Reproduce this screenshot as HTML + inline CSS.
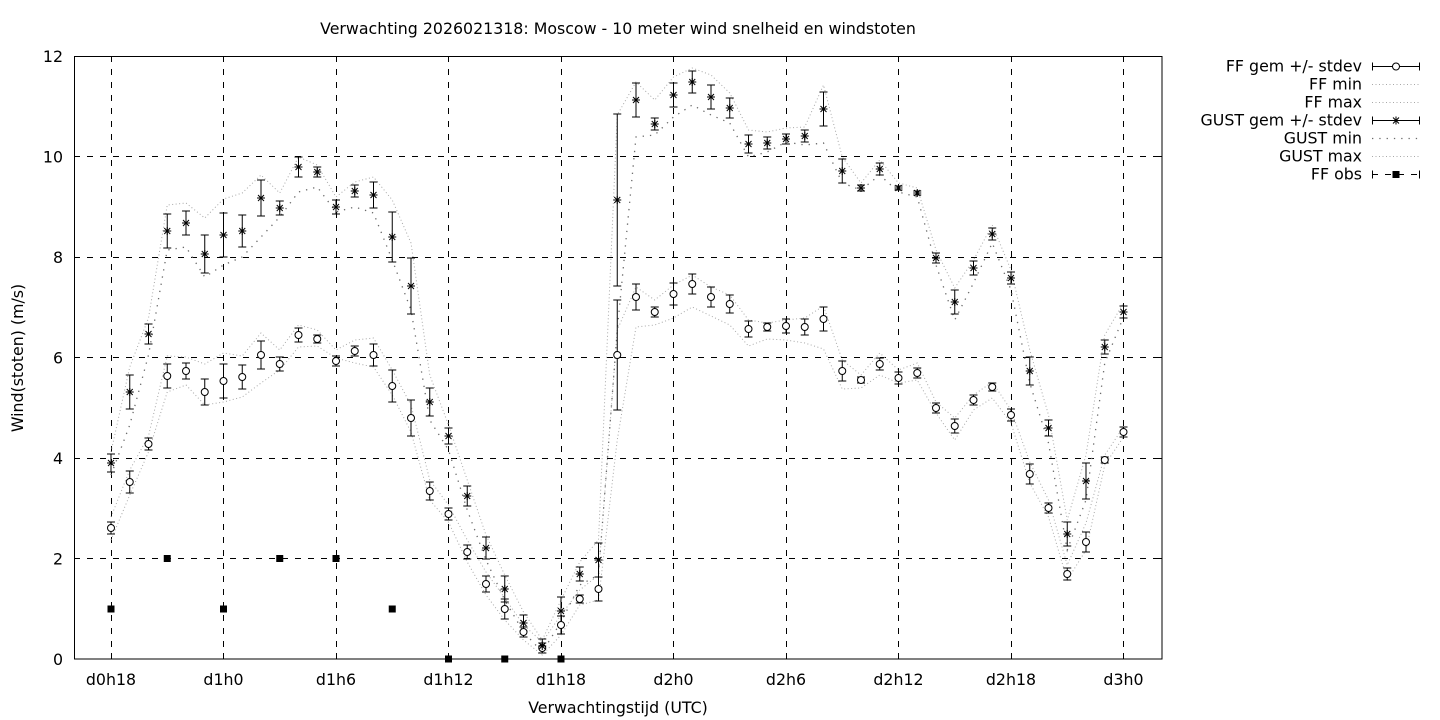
<!DOCTYPE html>
<html><head><meta charset="utf-8"><style>
html,body{margin:0;padding:0;background:#fff}
svg{display:block}
text{font-family:"DejaVu Sans","Liberation Sans",sans-serif;font-size:15.8px;fill:#000}
</style></head><body>
<svg width="1440" height="720" viewBox="0 0 1440 720" xmlns="http://www.w3.org/2000/svg">
<defs>
<g id="a"><path d="M-4 0h8M0-4v8M-3-3l6 6M-3 3l6-6" stroke="#000" stroke-width="1" fill="none"/></g>
</defs>
<rect x="0" y="0" width="1440" height="720" fill="#fff"/>
<!-- grid -->
<g stroke="#000" stroke-width="1" stroke-dasharray="6,7" fill="none">
<path d="M74 156.5H1162M74 257.5H1162M74 357.5H1162M74 458.5H1162M74 558.5H1162"/>
<path d="M111.5 56V659M223.5 56V659M336.5 56V659M448.5 56V659M561.5 56V659M673.5 56V659M786.5 56V659M898.5 56V659M1011.5 56V659M1123.5 56V659"/>
</g>
<!-- ticks -->
<g stroke="#000" stroke-width="1">
<path d="M74 156.5h6M74 257.5h6M74 357.5h6M74 458.5h6M74 558.5h6M1162 156.5h-6M1162 257.5h-6M1162 357.5h-6M1162 458.5h-6M1162 558.5h-6"/>
<path d="M111.5 659v-6M223.5 659v-6M336.5 659v-6M448.5 659v-6M561.5 659v-6M673.5 659v-6M786.5 659v-6M898.5 659v-6M1011.5 659v-6M1123.5 659v-6M111.5 56v6M223.5 56v6M336.5 56v6M448.5 56v6M561.5 56v6M673.5 56v6M786.5 56v6M898.5 56v6M1011.5 56v6M1123.5 56v6"/>
</g>
<!-- envelopes -->
<g fill="none">
<polyline stroke="#a8a8a8" stroke-width="1" stroke-dasharray="1,2.5" points="111,517 129.75,470 148.5,436 167.25,356 186,357 204.75,364 223.5,353 242.25,356 261,333 279.75,350 298.5,325 317.25,330 336,350 354.75,340 373.5,338 392.25,370 411,405 429.75,480 448.5,505 467.25,540 486,572 504.75,598 523.5,625 542.25,642 561,615 579.75,590 598.5,575 617.25,330 636,287 654.75,300 673.5,285 692.25,275 711,287 729.75,295 748.5,320 767.25,323 786,320 804.75,318 823.5,306 842.25,360 861,375 879.75,353 898.5,370 917.25,363 936,402 954.75,418 973.5,395 992.25,382 1011,410 1029.75,462 1048.5,500 1067.25,565 1086,523 1104.75,455 1123.5,427"/>
<polyline stroke="#a8a8a8" stroke-width="1" stroke-dasharray="1,2.5" points="111,540 129.75,495 148.5,452 167.25,392 186,385 204.75,405 223.5,402 242.25,397 261,383 279.75,370 298.5,347 317.25,346 336,358 354.75,363 373.5,367 392.25,395 411,432 429.75,500 448.5,522 467.25,562 486,595 504.75,620 523.5,640 542.25,655 561,635 579.75,605 598.5,600 617.25,440 636,327 654.75,325 673.5,318 692.25,307 711,316 729.75,325 748.5,346 767.25,339 786,340 804.75,343 823.5,349 842.25,389 861,388 879.75,375 898.5,383 917.25,380 936,413 954.75,440 973.5,410 992.25,398 1011,423 1029.75,483 1048.5,517 1067.25,580 1086,550 1104.75,465 1123.5,437"/>
<polyline stroke="#a8a8a8" stroke-width="1" stroke-dasharray="1,2.5" points="111,452 129.75,367 148.5,318 167.25,205 186,203 204.75,218 223.5,199 242.25,193 261,175 279.75,193 298.5,157 317.25,165 336,197 354.75,182 373.5,177 392.25,200 411,243 429.75,375 448.5,425 467.25,480 486,535 504.75,575 523.5,612 542.25,640 561,600 579.75,562 598.5,540 617.25,115 636,82 654.75,100 673.5,77 692.25,68 711,75 729.75,93 748.5,130 767.25,132 786,128 804.75,127 823.5,85 842.25,157 861,183 879.75,160 898.5,183 917.25,188 936,250 954.75,288 973.5,260 992.25,225 1011,270 1029.75,350 1048.5,415 1067.25,520 1086,455 1104.75,335 1123.5,303"/>
<polyline stroke="#6a6a6a" stroke-width="1.3" stroke-dasharray="1.3,6" points="111,475 129.75,425 148.5,355 167.25,250 186,247 204.75,277 223.5,265 242.25,257 261,237 279.75,217 298.5,192 317.25,187 336,212 354.75,207 373.5,213 392.25,260 411,310 429.75,420 448.5,450 467.25,510 486,560 504.75,600 523.5,632 542.25,652 561,622 579.75,585 598.5,575 617.25,330 636,137 654.75,135 673.5,117 692.25,105 711,115 729.75,123 748.5,157 767.25,152 786,142 804.75,145 823.5,143 842.25,183 861,190 879.75,175 898.5,192 917.25,197 936,265 954.75,320 973.5,283 992.25,243 1011,290 1029.75,383 1048.5,443 1067.25,550 1086,500 1104.75,363 1123.5,317"/>
</g>
<!-- FF error bars -->
<path fill="none" stroke="#000" stroke-width="1" d="M111 522V534M107 522h8M107 534h8M129.75 471V493M125.75 471h8M125.75 493h8M148.5 438V450M144.5 438h8M144.5 450h8M167.25 364V388M163.25 364h8M163.25 388h8M186 363V379M182 363h8M182 379h8M204.75 379V405M200.75 379h8M200.75 405h8M223.5 364V398M219.5 364h8M219.5 398h8M242.25 365V389M238.25 365h8M238.25 389h8M261 341V369M257 341h8M257 369h8M279.75 357V371M275.75 357h8M275.75 371h8M298.5 328V342M294.5 328h8M294.5 342h8M317.25 335V343M313.25 335h8M313.25 343h8M336 356V366M332 356h8M332 366h8M354.75 346V356M350.75 346h8M350.75 356h8M373.5 344V366M369.5 344h8M369.5 366h8M392.25 370V402M388.25 370h8M388.25 402h8M411 400V436M407 400h8M407 436h8M429.75 482V500M425.75 482h8M425.75 500h8M448.5 508V520M444.5 508h8M444.5 520h8M467.25 545V559M463.25 545h8M463.25 559h8M486 576V592M482 576h8M482 592h8M504.75 599V619M500.75 599h8M500.75 619h8M523.5 627V637M519.5 627h8M519.5 637h8M542.25 643V653M538.25 643h8M538.25 653h8M561 616V634M557 616h8M557 634h8M579.75 595V603M575.75 595h8M575.75 603h8M598.5 577V601M594.5 577h8M594.5 601h8M617.25 300V410M613.25 300h8M613.25 410h8M636 284V310M632 284h8M632 310h8M654.75 307V317M650.75 307h8M650.75 317h8M673.5 283V305M669.5 283h8M669.5 305h8M692.25 274V294M688.25 274h8M688.25 294h8M711 287V307M707 287h8M707 307h8M729.75 295V313M725.75 295h8M725.75 313h8M748.5 321V337M744.5 321h8M744.5 337h8M767.25 323V331M763.25 323h8M763.25 331h8M786 319V333M782 319h8M782 333h8M804.75 319V335M800.75 319h8M800.75 335h8M823.5 307V331M819.5 307h8M819.5 331h8M842.25 361V381M838.25 361h8M838.25 381h8M861 377V383M857 377h8M857 383h8M879.75 358V370M875.75 358h8M875.75 370h8M898.5 372V384M894.5 372h8M894.5 384h8M917.25 368V378M913.25 368h8M913.25 378h8M936 403V413M932 403h8M932 413h8M954.75 419V433M950.75 419h8M950.75 433h8M973.5 395V405M969.5 395h8M969.5 405h8M992.25 383V391M988.25 383h8M988.25 391h8M1011 409V421M1007 409h8M1007 421h8M1029.75 464V484M1025.75 464h8M1025.75 484h8M1048.5 503V513M1044.5 503h8M1044.5 513h8M1067.25 568V580M1063.25 568h8M1063.25 580h8M1086 532V552M1082 532h8M1082 552h8M1104.75 457V463M1100.75 457h8M1100.75 463h8M1123.5 427V437M1119.5 427h8M1119.5 437h8"/>
<!-- GUST error bars -->
<path fill="none" stroke="#000" stroke-width="1" d="M111 454V472M107 454h8M107 472h8M129.75 375V409M125.75 375h8M125.75 409h8M148.5 324V344M144.5 324h8M144.5 344h8M167.25 214V248M163.25 214h8M163.25 248h8M186 211V235M182 211h8M182 235h8M204.75 235V273M200.75 235h8M200.75 273h8M223.5 213V257M219.5 213h8M219.5 257h8M242.25 215V247M238.25 215h8M238.25 247h8M261 180V216M257 180h8M257 216h8M279.75 201V215M275.75 201h8M275.75 215h8M298.5 157V177M294.5 157h8M294.5 177h8M317.25 167V177M313.25 167h8M313.25 177h8M336 200V214M332 200h8M332 214h8M354.75 185V197M350.75 185h8M350.75 197h8M373.5 182V208M369.5 182h8M369.5 208h8M392.25 212V262M388.25 212h8M388.25 262h8M411 258V314M407 258h8M407 314h8M429.75 388V416M425.75 388h8M425.75 416h8M448.5 428V444M444.5 428h8M444.5 444h8M467.25 486V506M463.25 486h8M463.25 506h8M486 537V559M482 537h8M482 559h8M504.75 576V602M500.75 576h8M500.75 602h8M523.5 615V631M519.5 615h8M519.5 631h8M542.25 639V653M538.25 639h8M538.25 653h8M561 597V625M557 597h8M557 625h8M579.75 567V581M575.75 567h8M575.75 581h8M598.5 543V577M594.5 543h8M594.5 577h8M617.25 114V286M613.25 114h8M613.25 286h8M636 83V117M632 83h8M632 117h8M654.75 118V130M650.75 118h8M650.75 130h8M673.5 83V107M669.5 83h8M669.5 107h8M692.25 71V93M688.25 71h8M688.25 93h8M711 85V109M707 85h8M707 109h8M729.75 98V118M725.75 98h8M725.75 118h8M748.5 135V153M744.5 135h8M744.5 153h8M767.25 137V149M763.25 137h8M763.25 149h8M786 134V144M782 134h8M782 144h8M804.75 130V142M800.75 130h8M800.75 142h8M823.5 92V126M819.5 92h8M819.5 126h8M842.25 159V183M838.25 159h8M838.25 183h8M861 185V191M857 185h8M857 191h8M879.75 163V175M875.75 163h8M875.75 175h8M898.5 186V190M894.5 186h8M894.5 190h8M917.25 191V195M913.25 191h8M913.25 195h8M936 253V263M932 253h8M932 263h8M954.75 290V314M950.75 290h8M950.75 314h8M973.5 261V275M969.5 261h8M969.5 275h8M992.25 228V240M988.25 228h8M988.25 240h8M1011 272V284M1007 272h8M1007 284h8M1029.75 357V385M1025.75 357h8M1025.75 385h8M1048.5 420V436M1044.5 420h8M1044.5 436h8M1067.25 522V546M1063.25 522h8M1063.25 546h8M1086 463V499M1082 463h8M1082 499h8M1104.75 340V354M1100.75 340h8M1100.75 354h8M1123.5 306V318M1119.5 306h8M1119.5 318h8"/>
<!-- FF circles -->
<g fill="#fff" stroke="#000" stroke-width="1">
<circle cx="111" cy="528" r="3.5"/><circle cx="129.75" cy="482" r="3.5"/><circle cx="148.5" cy="444" r="3.5"/><circle cx="167.25" cy="376" r="3.5"/><circle cx="186" cy="371" r="3.5"/><circle cx="204.75" cy="392" r="3.5"/><circle cx="223.5" cy="381" r="3.5"/><circle cx="242.25" cy="377" r="3.5"/><circle cx="261" cy="355" r="3.5"/><circle cx="279.75" cy="364" r="3.5"/><circle cx="298.5" cy="335" r="3.5"/><circle cx="317.25" cy="339" r="3.5"/><circle cx="336" cy="361" r="3.5"/><circle cx="354.75" cy="351" r="3.5"/><circle cx="373.5" cy="355" r="3.5"/><circle cx="392.25" cy="386" r="3.5"/><circle cx="411" cy="418" r="3.5"/><circle cx="429.75" cy="491" r="3.5"/><circle cx="448.5" cy="514" r="3.5"/><circle cx="467.25" cy="552" r="3.5"/><circle cx="486" cy="584" r="3.5"/><circle cx="504.75" cy="609" r="3.5"/><circle cx="523.5" cy="632" r="3.5"/><circle cx="542.25" cy="648" r="3.5"/><circle cx="561" cy="625" r="3.5"/><circle cx="579.75" cy="599" r="3.5"/><circle cx="598.5" cy="589" r="3.5"/><circle cx="617.25" cy="355" r="3.5"/><circle cx="636" cy="297" r="3.5"/><circle cx="654.75" cy="312" r="3.5"/><circle cx="673.5" cy="294" r="3.5"/><circle cx="692.25" cy="284" r="3.5"/><circle cx="711" cy="297" r="3.5"/><circle cx="729.75" cy="304" r="3.5"/><circle cx="748.5" cy="329" r="3.5"/><circle cx="767.25" cy="327" r="3.5"/><circle cx="786" cy="326" r="3.5"/><circle cx="804.75" cy="327" r="3.5"/><circle cx="823.5" cy="319" r="3.5"/><circle cx="842.25" cy="371" r="3.5"/><circle cx="861" cy="380" r="3.5"/><circle cx="879.75" cy="364" r="3.5"/><circle cx="898.5" cy="378" r="3.5"/><circle cx="917.25" cy="373" r="3.5"/><circle cx="936" cy="408" r="3.5"/><circle cx="954.75" cy="426" r="3.5"/><circle cx="973.5" cy="400" r="3.5"/><circle cx="992.25" cy="387" r="3.5"/><circle cx="1011" cy="415" r="3.5"/><circle cx="1029.75" cy="474" r="3.5"/><circle cx="1048.5" cy="508" r="3.5"/><circle cx="1067.25" cy="574" r="3.5"/><circle cx="1086" cy="542" r="3.5"/><circle cx="1104.75" cy="460" r="3.5"/><circle cx="1123.5" cy="432" r="3.5"/>
</g>
<!-- GUST asterisks -->
<g>
<use href="#a" x="111" y="463"/><use href="#a" x="129.75" y="392"/><use href="#a" x="148.5" y="334"/><use href="#a" x="167.25" y="231"/><use href="#a" x="186" y="223"/><use href="#a" x="204.75" y="254"/><use href="#a" x="223.5" y="235"/><use href="#a" x="242.25" y="231"/><use href="#a" x="261" y="198"/><use href="#a" x="279.75" y="208"/><use href="#a" x="298.5" y="167"/><use href="#a" x="317.25" y="172"/><use href="#a" x="336" y="207"/><use href="#a" x="354.75" y="191"/><use href="#a" x="373.5" y="195"/><use href="#a" x="392.25" y="237"/><use href="#a" x="411" y="286"/><use href="#a" x="429.75" y="402"/><use href="#a" x="448.5" y="436"/><use href="#a" x="467.25" y="496"/><use href="#a" x="486" y="548"/><use href="#a" x="504.75" y="589"/><use href="#a" x="523.5" y="623"/><use href="#a" x="542.25" y="646"/><use href="#a" x="561" y="611"/><use href="#a" x="579.75" y="574"/><use href="#a" x="598.5" y="560"/><use href="#a" x="617.25" y="200"/><use href="#a" x="636" y="100"/><use href="#a" x="654.75" y="124"/><use href="#a" x="673.5" y="95"/><use href="#a" x="692.25" y="82"/><use href="#a" x="711" y="97"/><use href="#a" x="729.75" y="108"/><use href="#a" x="748.5" y="144"/><use href="#a" x="767.25" y="143"/><use href="#a" x="786" y="139"/><use href="#a" x="804.75" y="136"/><use href="#a" x="823.5" y="109"/><use href="#a" x="842.25" y="171"/><use href="#a" x="861" y="188"/><use href="#a" x="879.75" y="169"/><use href="#a" x="898.5" y="188"/><use href="#a" x="917.25" y="193"/><use href="#a" x="936" y="258"/><use href="#a" x="954.75" y="302"/><use href="#a" x="973.5" y="268"/><use href="#a" x="992.25" y="234"/><use href="#a" x="1011" y="278"/><use href="#a" x="1029.75" y="371"/><use href="#a" x="1048.5" y="428"/><use href="#a" x="1067.25" y="534"/><use href="#a" x="1086" y="481"/><use href="#a" x="1104.75" y="347"/><use href="#a" x="1123.5" y="312"/>
</g>
<!-- FF obs -->
<g fill="#000">
<rect x="107.5" y="605.5" width="7" height="7"/><rect x="163.75" y="555" width="7" height="7"/><rect x="220" y="605.5" width="7" height="7"/><rect x="276.25" y="555" width="7" height="7"/><rect x="332.5" y="555" width="7" height="7"/><rect x="388.75" y="605.5" width="7" height="7"/><rect x="445" y="655.5" width="7" height="7"/><rect x="501.25" y="655.5" width="7" height="7"/><rect x="557.5" y="655.5" width="7" height="7"/>
</g>
<!-- border -->
<rect x="74.5" y="56.5" width="1087.5" height="602.5" fill="none" stroke="#000" stroke-width="1"/>
<!-- title & labels -->
<text x="618" y="34" text-anchor="middle">Verwachting 2026021318: Moscow - 10 meter wind snelheid en windstoten</text>
<g text-anchor="end">
<text x="63" y="665">0</text>
<text x="63" y="564.5">2</text>
<text x="63" y="464">4</text>
<text x="63" y="363.5">6</text>
<text x="63" y="263">8</text>
<text x="63" y="162.5">10</text>
<text x="63" y="62">12</text>
</g>
<g text-anchor="middle">
<text x="111" y="685">d0h18</text>
<text x="223.5" y="685">d1h0</text>
<text x="336" y="685">d1h6</text>
<text x="448.5" y="685">d1h12</text>
<text x="561" y="685">d1h18</text>
<text x="673.5" y="685">d2h0</text>
<text x="786" y="685">d2h6</text>
<text x="898.5" y="685">d2h12</text>
<text x="1011" y="685">d2h18</text>
<text x="1123.5" y="685">d3h0</text>
<text x="618" y="713">Verwachtingstijd (UTC)</text>
<text x="0" y="0" transform="translate(23,358) rotate(-90)">Wind(stoten) (m/s)</text>
</g>
<!-- legend -->
<g text-anchor="end">
<text x="1362" y="71.5">FF gem +/- stdev</text>
<text x="1362" y="89.5">FF min</text>
<text x="1362" y="107.5">FF max</text>
<text x="1362" y="125.5">GUST gem +/- stdev</text>
<text x="1362" y="143.5">GUST min</text>
<text x="1362" y="161.5">GUST max</text>
<text x="1362" y="179.5">FF obs</text>
</g>
<g fill="none" stroke="#000" stroke-width="1">
<path d="M1372 66.5H1420M1372.5 62.5v8M1419.5 62.5v8"/>
<path d="M1372 120.5H1420M1372.5 116.5v8M1419.5 116.5v8"/>
<path d="M1372.5 170.5v8M1419.5 170.5v8"/>
<path d="M1372 174.5H1420" stroke-dasharray="6,7"/>
</g>
<circle cx="1396" cy="66.5" r="3.5" fill="#fff" stroke="#000" stroke-width="1"/>
<use href="#a" x="1396" y="120.5"/>
<rect x="1392.5" y="171" width="7" height="7" fill="#000"/>
<path d="M1372 84.5H1420" stroke="#a8a8a8" stroke-dasharray="1,2.5" fill="none"/>
<path d="M1372 102.5H1420" stroke="#a8a8a8" stroke-dasharray="1,2.5" fill="none"/>
<path d="M1372 138.5H1420" stroke="#6a6a6a" stroke-width="1.3" stroke-dasharray="1.3,6" fill="none"/>
<path d="M1372 156.5H1420" stroke="#a8a8a8" stroke-dasharray="1,2.5" fill="none"/>
</svg>
</body></html>
